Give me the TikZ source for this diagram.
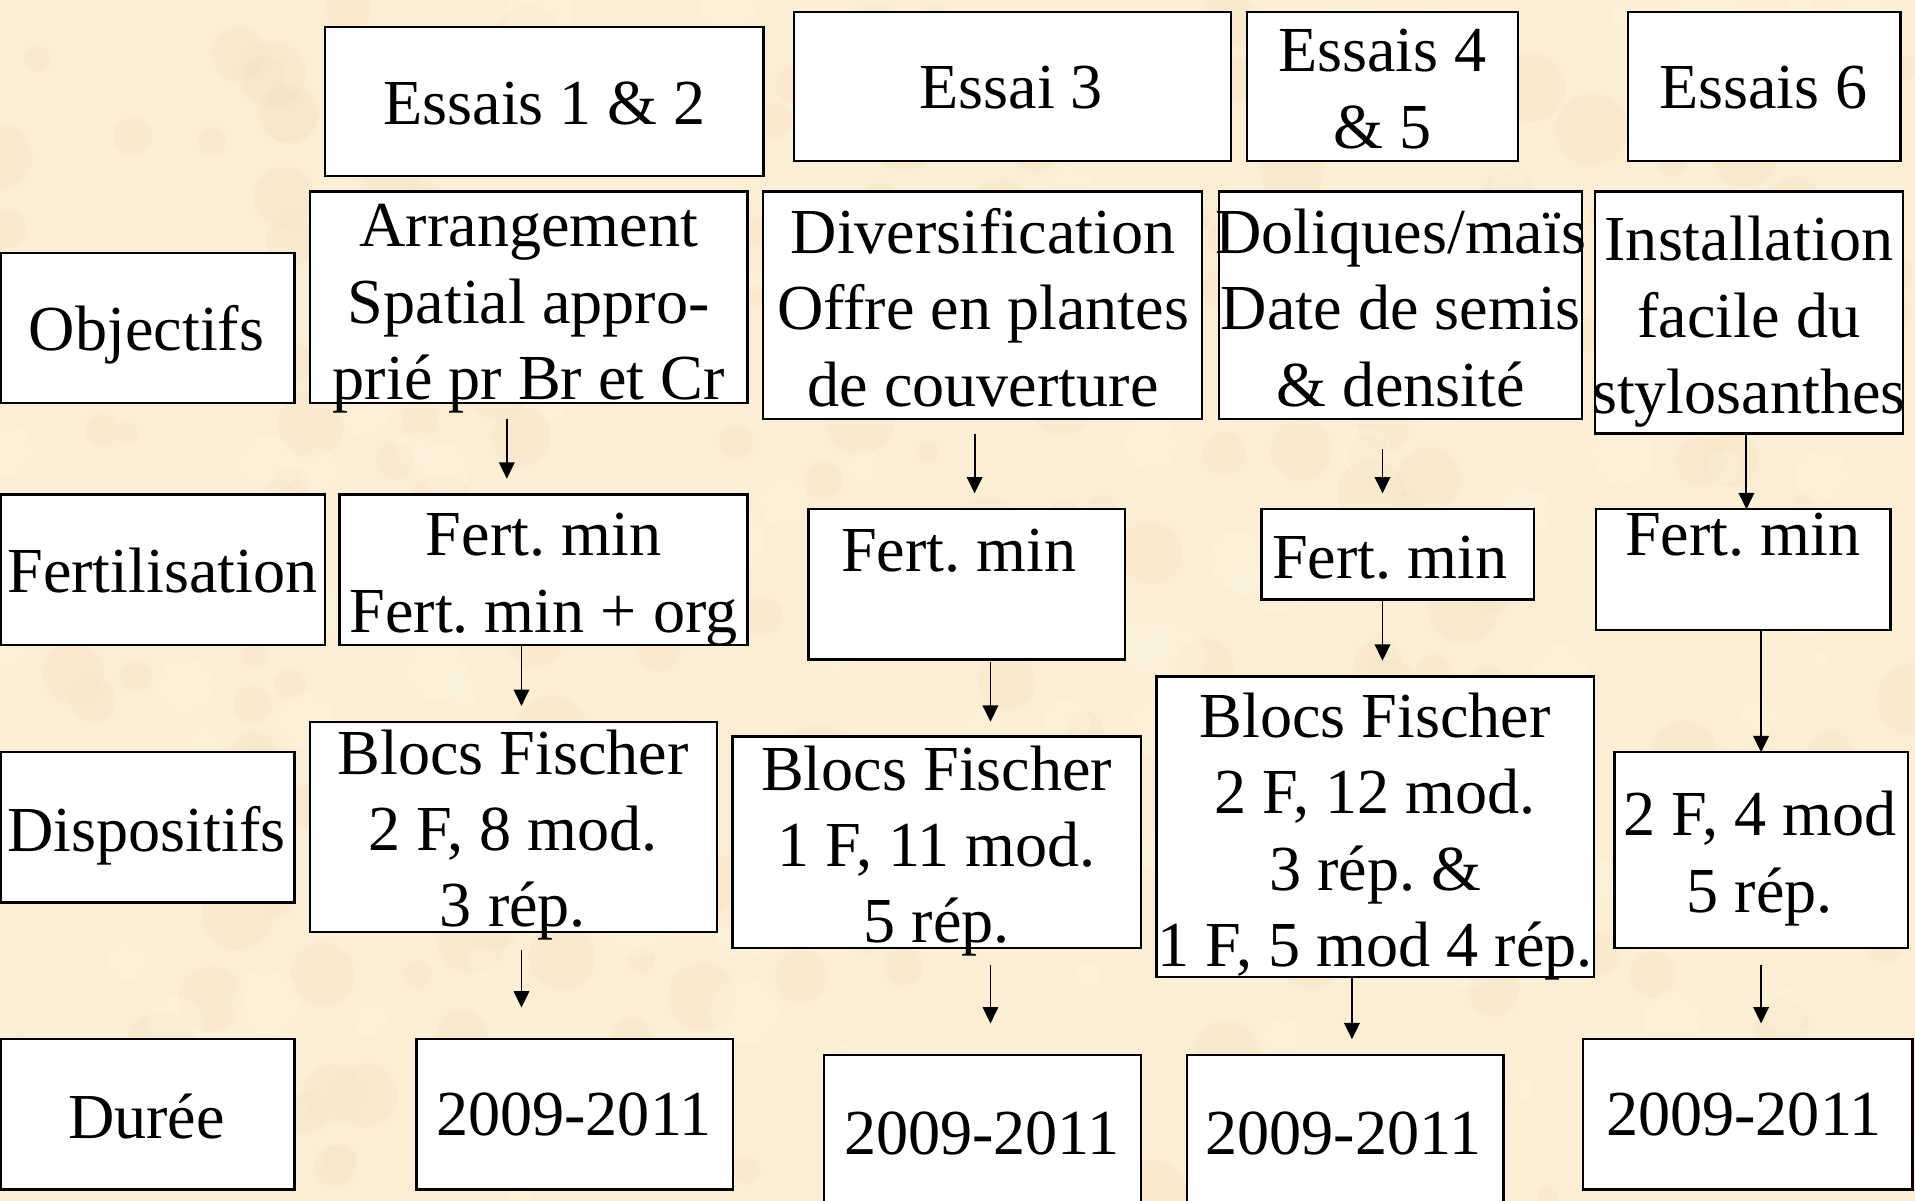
\documentclass[tikz,border=0pt]{standalone}
\usepackage{fontspec}
\setmainfont{Liberation Serif}
\usetikzlibrary{arrows.meta}
\definecolor{parch}{RGB}{251,238,212}
\definecolor{parchdark}{RGB}{242,224,190}
\definecolor{parchlight}{RGB}{255,245,226}
\newcommand{\mlines}[1]{\begin{tabular}{@{}c@{}}#1\end{tabular}}
\newcommand{\bigfont}{\fontsize{14.94pt}{17.78pt}\selectfont\frenchspacing}
\newcommand{\mybox}[5]{\node[box, minimum width=#4cm, minimum height=#5cm] (#1) at (#2,#3) {};}
\newcommand{\mytext}[4]{\node[txt] (#1) at (#2,#3) {\mlines{#4}};}
\begin{document}
\begin{tikzpicture}[x=0.01cm,y=-0.01cm,
  box/.style={draw=black, fill=white, line width=0.55pt, inner sep=0pt, rectangle},
  txt/.style={inner sep=0pt, font=\bigfont},
  arr/.style={line width=0.45pt, -{Triangle[length=3.8pt,width=3.6pt]}}]
\useasboundingbox (0,0) rectangle (1568,983);
\begin{scope}
\clip (0,0) rectangle (1568,983);
\fill[parch] (0,0) rectangle (1568,983);
\pgfmathsetseed{7}
\foreach \i in {1,...,220}{
  \pgfmathsetmacro{\px}{rnd*1568}
  \pgfmathsetmacro{\py}{rnd*983}
  \pgfmathsetmacro{\pr}{0.08+rnd*0.22}
  \fill[parchdark, opacity=0.22] (\px,\py) circle (\pr cm);
}
\foreach \i in {1,...,120}{
  \pgfmathsetmacro{\px}{rnd*1568}
  \pgfmathsetmacro{\py}{rnd*983}
  \pgfmathsetmacro{\pr}{0.08+rnd*0.2}
  \fill[parchlight, opacity=0.3] (\px,\py) circle (\pr cm);
}
\end{scope}
% header boxes
\mybox{h1}{445.5}{83}{3.59}{1.22}
\mybox{h2}{829}{71}{3.58}{1.22}
\mybox{h3}{1132}{71}{2.22}{1.22}
\mybox{h4}{1444.5}{71}{2.23}{1.22}
% row labels
\mybox{lo}{121}{268.5}{2.40}{1.23}
\mybox{lf}{133.5}{466.5}{2.65}{1.23}
\mybox{ld}{121}{677.5}{2.40}{1.23}
\mybox{lu}{121}{912.5}{2.40}{1.23}
% objectifs
\mybox{o1}{433}{243.5}{3.58}{1.73}
\mybox{o2}{804.5}{250}{3.59}{1.86}
\mybox{o3}{1146.5}{250}{2.97}{1.86}
\mybox{o4}{1432}{256}{2.52}{1.98}
% fertilisation
\mybox{f1}{445}{466.5}{3.34}{1.23}
\mybox{f2}{791.5}{478.5}{2.59}{1.23}
\mybox{f3}{1144.5}{454}{2.23}{0.74}
\mybox{f4}{1427.5}{466.5}{2.41}{0.99}
% dispositifs
\mybox{d1}{420.5}{677}{3.33}{1.72}
\mybox{d2}{767}{689.5}{3.34}{1.73}
\mybox{d3}{1126}{677}{3.58}{2.46}
\mybox{d4}{1442}{696}{2.40}{1.60}
% duree
\mybox{u1}{470.5}{912.5}{2.59}{1.23}
\mybox{u2}{804.5}{927}{2.59}{1.26}
\mybox{u3}{1101.5}{927}{2.59}{1.26}
\mybox{u4}{1431}{912.5}{2.70}{1.23}
% texts
\mytext{h1t}{446}{89.5}{Essais 1 \& 2}
\mytext{h2t}{828}{76.5}{Essai 3}
\mytext{h3t}{1132}{77.5}{Essais 4\\ \& 5}
\mytext{h4t}{1444}{76.5}{Essais 6}
\mytext{lot}{120}{274.5}{Objectifs}
\mytext{lft}{133}{472.5}{Fertilisation}
\mytext{ldt}{120}{684.5}{Dispositifs}
\mytext{lut}{120}{919.5}{Durée}
\mytext{o1t}{433}{252}{Arrangement\\ Spatial appro-\\ prié pr Br et Cr}
\mytext{o2t}{805}{257.5}{Diversification\\ Offre en plantes\\ de couverture}
\mytext{o3t}{1147}{257.5}{Doliques/maïs\\ Date de semis\\ \& densité}
\mytext{o4t}{1432}{263.5}{Installation\\ facile du\\ stylosanthes}
\mytext{f1t}{445}{474}{Fert. min\\ Fert. min + org}
\mytext{f2t}{785}{455.5}{Fert. min}
\mytext{f3t}{1138}{461.5}{Fert. min}
\mytext{f4t}{1427}{442.5}{Fert. min}
\mytext{d1t}{420}{684}{Blocs Fischer\\ 2 F, 8 mod.\\ 3 rép.}
\mytext{d2t}{767}{697}{Blocs Fischer\\ 1 F, 11 mod.\\ 5 rép.}
\mytext{d3t}{1126}{685}{Blocs Fischer\\ 2 F, 12 mod.\\ 3 rép. \&\\ 1 F, 5 mod 4 rép.}
\mytext{d4t}{1441}{703}{2 F, 4 mod\\ 5 rép.}
\mytext{u1t}{470}{917.5}{2009-2011}
\mytext{u2t}{804}{932.5}{2009-2011}
\mytext{u3t}{1100}{932.5}{2009-2011}
\mytext{u4t}{1428}{917.5}{2009-2011}
% arrow end points
\coordinate (a1s) at (415,343); \coordinate (a1e) at (415,392);
\coordinate (a2s) at (427,528); \coordinate (a2e) at (427,578);
\coordinate (a3s) at (427,778); \coordinate (a3e) at (427,825);
\coordinate (b1s) at (798,355); \coordinate (b1e) at (798,404);
\coordinate (b2s) at (811,542); \coordinate (b2e) at (811,591);
\coordinate (b3s) at (811,790); \coordinate (b3e) at (811,838);
\coordinate (c1s) at (1132,368); \coordinate (c1e) at (1132,404);
\coordinate (c2s) at (1132,491); \coordinate (c2e) at (1132,541);
\coordinate (c3s) at (1107,801); \coordinate (c3e) at (1107,851);
\coordinate (e1s) at (1430,355); \coordinate (e1e) at (1430,417);
\coordinate (e2s) at (1442,516); \coordinate (e2e) at (1442,616);
\coordinate (e3s) at (1442,790); \coordinate (e3e) at (1442,838);
\foreach \a in {a1,a2,a3,b1,b2,b3,c1,c2,c3,e1,e2,e3}
  \draw[arr] (\a s) -- (\a e);
\end{tikzpicture}
\end{document}
